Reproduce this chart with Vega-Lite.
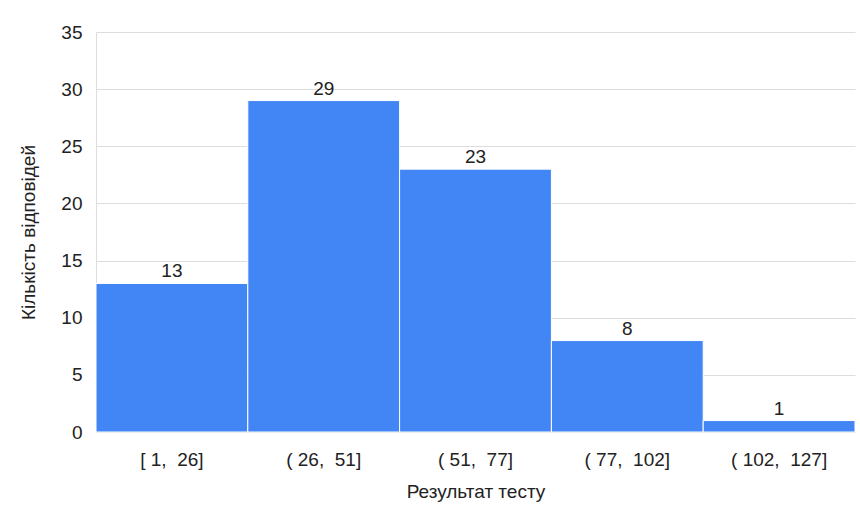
{
  "$schema": "https://vega.github.io/schema/vega-lite/v6.json",
  "autosize": "none",
  "width": 759,
  "height": 400,
  "padding": {"left": 96, "top": 32, "right": 5, "bottom": 83},
  "background": "white",
  "config": {
    "view": {"stroke": null},
    "font": "Liberation Sans",
    "axis": {"labelFont": "Liberation Sans", "titleFont": "Liberation Sans", "labelColor": "#222222", "titleColor": "#222222", "titleFontWeight": "normal"}
  },
  "data": {
    "values": [
      {"bin": "[ 1,\u00a0 26]", "count": 13},
      {"bin": "( 26,\u00a0 51]", "count": 29},
      {"bin": "( 51,\u00a0 77]", "count": 23},
      {"bin": "( 77,\u00a0 102]", "count": 8},
      {"bin": "( 102,\u00a0 127]", "count": 1}
    ]
  },
  "encoding": {
    "x": {
      "field": "bin", "type": "nominal", "sort": null,
      "scale": {"paddingInner": 0, "paddingOuter": 0},
      "axis": {"labelAngle": 0, "ticks": false, "domain": false, "labelFontSize": 19, "labelPadding": 18, "title": "Результат тесту", "titleFontSize": 19, "titlePadding": 13}
    },
    "y": {
      "field": "count", "type": "quantitative",
      "scale": {"domain": [0, 35]},
      "axis": {"values": [0, 5, 10, 15, 20, 25, 30, 35], "ticks": false, "domain": true, "domainColor": "#dddddd", "gridColor": "#dddddd", "labelFontSize": 19, "labelPadding": 14, "title": "Кількість відповідей", "titleFontSize": 19, "titlePadding": 22}
    }
  },
  "layer": [
    {"mark": {"type": "bar", "color": "#4285F4", "stroke": "white", "strokeWidth": 1}},
    {"mark": {"type": "text", "dy": -12, "fontSize": 19, "color": "#222222"}, "encoding": {"text": {"field": "count"}}}
  ]
}
